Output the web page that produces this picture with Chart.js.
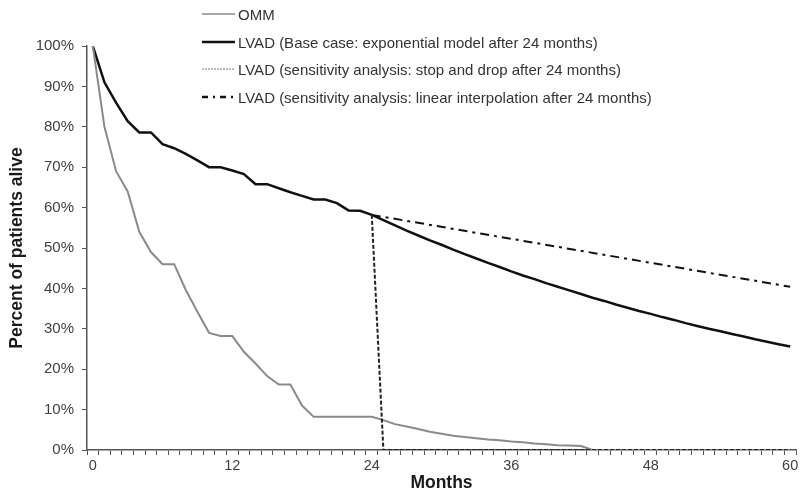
<!DOCTYPE html>
<html>
<head>
<meta charset="utf-8">
<script src="https://cdn.jsdelivr.net/npm/chart.js@4.4.1/dist/chart.umd.min.js"></script>
<style>
html,body{margin:0;padding:0;background:#fff;}
#wrap{position:relative;width:805px;height:495px;}
#legend{position:absolute;left:202px;top:0;font-family:"Liberation Sans",Arial,sans-serif;font-size:15px;color:#333;}
.row{position:absolute;left:0;height:20px;display:flex;align-items:center;white-space:nowrap;}
.row svg{width:33px;height:6px;margin-right:3px;display:block;}
</style>
</head>
<body>
<div id="wrap">
<canvas id="c"></canvas>
<div id="legend"></div>
</div>
<script>
// ---- Data ----
const months = [0,1,2,3,4,5,6,7,8,9,10,11,12,13,14,15,16,17,18,19,20,21,22,23,24,25,26,27,28,29,30,
  31,32,33,34,35,36,37,38,39,40,41,42,43,44,45,46,47,48,49,50,51,52,53,54,55,56,57,58,59,60];
const monthTickLabels = [0,12,24,36,48,60];
const percentTicks = [0,10,20,30,40,50,60,70,80,90,100];

const omm = [100,80,69,64,54,49,46,46,39.6,34.2,29,28.2,28.2,24.3,21.4,18.3,16.2,16.2,11,8.2,8.2,
  8.2,8.2,8.2,8.2,7.4,6.4,5.8,5.2,4.5,4.0,3.5,3.2,2.9,2.6,2.4,2.1,1.9,1.6,1.4,1.2,1.1,1.0,0,
  0,0,0,0,0,0,0,0,0,0,0,0,0,0,0,0,0];
const lvadBase = [100,91,86,81.4,78.6,78.6,75.7,74.7,73.3,71.7,70,70,69.2,68.3,65.8,65.8,64.8,63.8,
  62.9,62,62,61.1,59.3,59.2,58.2,56.9,55.6,54.3,53.1,51.9,50.8,49.6,48.5,47.4,46.3,45.3,44.2,43.2,
  42.3,41.3,40.4,39.5,38.6,37.7,36.9,36.0,35.2,34.4,33.7,32.9,32.2,31.4,30.7,30.0,29.4,28.7,28.1,
  27.4,26.8,26.2,25.6];
const lvadStopDrop = [null,null,null,null,null,null,null,null,null,null,null,null,null,null,null,
  null,null,null,null,null,null,null,null,null,58.2,0,0,0,0,0,0,0,0,0,0,0,0,0,0,0,0,0,0,0,0,0,0,
  0,0,0,0,0,0,0,0,0,0,0,0,0,0];
const lvadLinear = [null,null,null,null,null,null,null,null,null,null,null,null,null,null,null,
  null,null,null,null,null,null,null,null,null,58.2,null,null,null,null,null,null,null,null,null,
  null,null,null,null,null,null,null,null,null,null,null,null,null,null,null,null,null,null,null,
  null,null,null,null,null,null,null,40.4];

const seriesNames = [
  'OMM',
  'LVAD (Base case: exponential model after 24 months)',
  'LVAD (sensitivity analysis: stop and drop after 24 months)',
  'LVAD (sensitivity analysis: linear interpolation after 24 months)'
];

// ---- Styles ----
const styles = [
  {color:'#8a8a8a', width:2, dash:[]},
  {color:'#111111', width:2.5, dash:[]},
  {color:'#222222', width:2, dash:[4,2]},
  {color:'#111111', width:2, dash:[9,5,3,5]}
];
const legendSample = [
  {color:'#8a8a8a', width:1.5, dash:''},
  {color:'#111', width:2.5, dash:''},
  {color:'#777', width:1, dash:'2,1'},
  {color:'#111', width:2.5, dash:'6,5,2,5'}
];
const legendRowCenters = [14, 42, 69, 97];

Chart.defaults.font.family = '"Liberation Sans", Arial, sans-serif';

const seriesData = [omm, lvadBase, lvadStopDrop, lvadLinear];
const datasets = seriesData.map((d, i) => ({
  label: seriesNames[i],
  data: d,
  borderColor: styles[i].color,
  backgroundColor: styles[i].color,
  borderWidth: styles[i].width,
  borderDash: styles[i].dash,
  pointRadius: 0,
  pointHoverRadius: 0,
  tension: 0,
  fill: false,
  spanGaps: i === 3,
  order: i === 2 ? -1 : i
}));

// HTML legend
const leg = document.getElementById('legend');
seriesNames.forEach((name, i) => {
  const row = document.createElement('div');
  row.className = 'row';
  row.style.top = (legendRowCenters[i] - 10) + 'px';
  const s = legendSample[i];
  row.innerHTML = '<svg viewBox="0 0 33 6"><line x1="0" y1="3" x2="33" y2="3" stroke="' + s.color +
    '" stroke-width="' + s.width + '"' + (s.dash ? ' stroke-dasharray="' + s.dash + '"' : '') + '/></svg>';
  const span = document.createElement('span');
  span.textContent = name;
  row.appendChild(span);
  leg.appendChild(row);
});

new Chart(document.getElementById('c'), {
  type: 'line',
  data: { labels: months, datasets },
  options: {
    responsive: true,
    maintainAspectRatio: false,
    animation: false,
    layout: { padding: { top: 46, right: 9, left: 0, bottom: 0 } },
    plugins: { legend: { display: false }, tooltip: { enabled: false } },
    scales: {
      x: {
        type: 'category',
        offset: true,
        grid: { offset: true, drawOnChartArea: false, drawTicks: true, tickLength: 5, color: '#555', lineWidth: 1 },
        border: { display: true, color: '#555', width: 1.5 },
        ticks: {
          autoSkip: false, maxRotation: 0, minRotation: 0, padding: 2,
          color: '#404040', font: { size: 14.5 },
          callback: function(value, index) {
            const m = months[index];
            return monthTickLabels.includes(m) ? String(m) : '';
          }
        },
        title: { display: true, text: 'Months', color: '#1a1a1a', font: { size: 17.5, weight: 'bold' }, padding: { top: 0, bottom: 1 } },
        afterFit: s => { s.height = 45; }
      },
      y: {
        min: 0, max: 100,
        afterBuildTicks: s => { s.ticks = percentTicks.map(v => ({ value: v })); },
        grid: { drawOnChartArea: false, drawTicks: true, tickLength: 5, color: '#555', lineWidth: 1 },
        border: { display: true, color: '#555', width: 1.5 },
        ticks: { padding: 8, color: '#404040', font: { size: 15 }, callback: v => v + '%' },
        title: { display: true, text: 'Percent of patients alive', color: '#1a1a1a', font: { size: 17.5, weight: 'bold' }, padding: { top: 7, bottom: 0 } },
        afterFit: s => { s.width = 87; }
      }
    }
  }
});
</script>
</body>
</html>
